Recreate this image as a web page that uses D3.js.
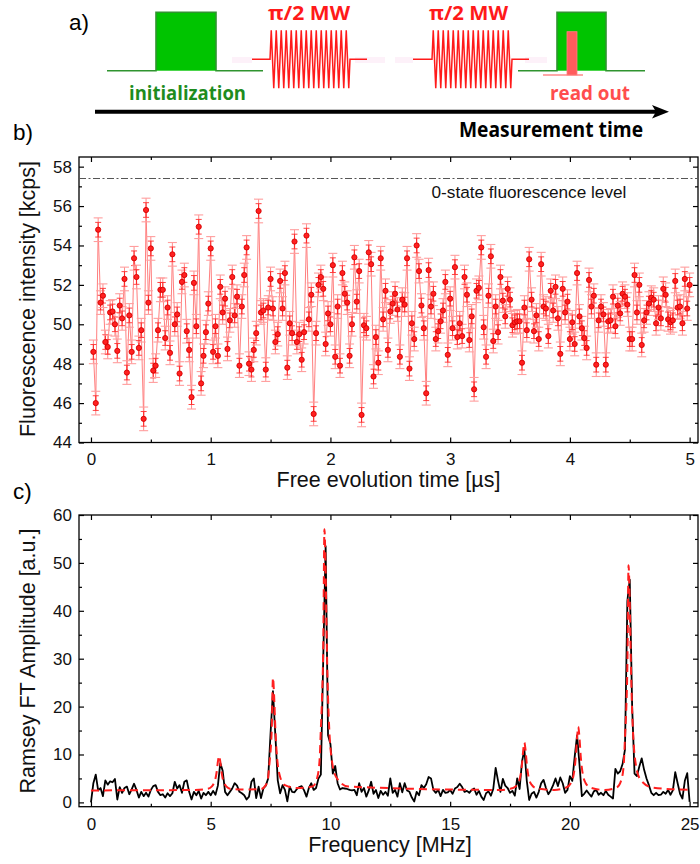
<!DOCTYPE html>
<html><head><meta charset="utf-8">
<script src="https://cdn.jsdelivr.net/npm/d3@7/dist/d3.min.js"></script>
<style>
html,body{margin:0;padding:0;background:#fff;}
svg{display:block;}
text{font-family:"Liberation Sans",Arial,sans-serif;}
.sch{font-family:"Open Sans","Noto Sans",sans-serif;font-weight:700;}
</style></head>
<body>
<svg id="chart" width="700" height="864"></svg>
<script>
// ---------- Panel b data: Ramsey fringes (free evolution time in µs, step 0.02) ----------
const timeStep = 0.02;
const fluor = [
48.6,46.0,54.8,51.1,51.45,49.1,48.85,50.6,50.65,50.0,
48.65,50.95,50.3,52.3,47.55,50.45,48.6,53.35,52.4,48.8,
49.7,45.2,55.8,51.1,53.85,47.65,47.9,49.7,51.75,51.75,
49.3,50.85,48.55,53.55,50.0,50.5,47.5,52.15,52.5,49.65,
48.7,46.3,52.1,49.9,54.95,47.0,48.4,49.6,51.05,53.85,
48.6,49.9,48.4,51.9,50.6,51.3,48.75,50.2,52.4,50.45,
51.4,47.9,50.9,52.5,53.9,48.0,47.7,48.7,49.55,55.75,
50.6,50.7,47.7,50.85,52.3,50.8,49.1,49.5,52.2,50.8,
52.6,47.8,50.05,49.55,54.2,49.1,49.5,48.2,49.6,54.5,
50.25,51.5,45.45,49.55,52.0,52.4,51.8,49.0,50.55,50.0,
53.0,48.35,50.9,47.9,52.6,51.55,51.1,48.4,
50.0,53.4,51.15,52.7,45.4,49.95,49.8,53.65,53.05,47.35,
49.35,48.05,53.35,50.25,51.7,48.7,50.65,51.05,51.55,50.75,
48.35,51.25,51.0,53.35,47.75,50.05,49.25,54.0,52.7,50.95,
49.8,46.5,52.75,50.9,51.55,49.25,49.65,50.15,50.7,52.15,
48.45,51.3,49.8,52.9,49.35,50.05,49.4,52.4,51.5,49.2,
50.4,46.7,51.7,51.85,53.9,49.85,48.35,51.45,53.45,49.15,
50.9,49.6,52.4,51.2,50.4,51.8,51.25,49.95,50.1,50.15,
50.15,48.05,50.85,49.7,53.3,51.25,49.65,50.45,49.25,53.05,
50.9,50.8,49.4,51.7,50.7,51.9,50.3,48.5,51.8,50.6,
51.15,49.25,50.1,49.0,52.6,50.4,49.8,49.3,48.8,52.25,
50.9,51.45,47.95,50.2,50.9,50.5,47.95,50.15,50.2,51.4,
49.9,50.95,50.55,51.55,51.4,51.0,49.25,49.25,52.5,50.6,
52.0,48.95,50.2,50.6,51.05,51.35,51.25,50.05,50.85,50.3,
51.8,51.5,50.25,50.1,50.2,52.2,50.85,50.9,50.05,52.3,
50.8,52.0
];
const fluorErr = 0.6;
const zeroStateLevel = 57.4;
const bXTicks = [0,1,2,3,4,5];
const bYTicks = [44,46,48,50,52,54,56,58];

// ---------- Panel c data: FT amplitude (frequency in MHz, step 0.1) ----------
const freqStep = 0.1;
const ftAmp = [
0,4.0,5.8,2.5,3.0,1.3,4.6,3.7,4.4,4.2,
4.9,0.6,3.2,2.0,3.0,3.3,1.7,2.7,3.9,2.6,
1.0,2.2,1.3,2.0,1.2,2.6,3.4,3.6,2.2,1.5,
1.7,1.0,1.9,1.3,1.9,4.3,2.9,3.6,2.0,4.3,
4.6,2.2,0.6,2.2,1.5,2.4,0.8,2.0,1.5,2.2,
1.5,2.4,1.6,3.5,8.2,6.6,2.2,1.5,2.2,2.9,
4.0,3.5,2.2,1.9,1.5,0.6,1.2,4.3,5.0,0.9,
3.3,0.9,2.9,3.5,5.0,14.5,23.2,14.0,4.6,1.9,
3.6,2.6,0.2,3.3,2.2,2.1,2.8,3.2,3.4,2.5,
1.2,3.0,4.0,2.6,3.0,5.0,5.8,30.0,53.5,14.0,
12.2,6.0,7.6,4.0,2.7,3.0,2.9,2.8,2.6,2.5,
2.6,1.5,4.0,2.2,3.0,1.2,2.5,4.3,1.8,2.6,
0.9,2.4,1.6,2.2,1.4,5.0,2.0,2.6,1.2,4.0,
2.1,4.0,2.5,2.2,1.0,0.2,2.2,1.5,3.6,3.0,
3.8,5.3,5.0,2.6,2.0,2.6,1.3,2.6,2.0,2.1,
2.6,1.8,2.9,3.2,3.9,3.2,2.2,2.4,2.0,2.6,
2.9,1.6,2.4,1.2,0.5,1.9,2.3,1.4,2.8,7.2,
4.5,2.2,4.9,3.5,3.0,2.0,2.4,1.4,5.0,2.8,
8.5,11.0,4.5,0.5,1.8,2.2,1.0,2.2,4.0,4.7,
3.0,1.7,2.5,3.6,5.0,3.4,5.2,4.0,2.0,2.6,
5.5,4.5,9.5,14.0,8.0,1.3,1.8,2.5,1.8,1.2,
2.3,2.6,1.6,2.0,1.5,2.4,1.6,1.2,0.8,7.0,
6.0,6.5,8.0,11.0,42.0,46.5,20.0,6.0,5.5,7.5,
9.2,6.8,5.0,3.6,2.0,1.5,2.0,1.5,1.6,2.2,
1.8,2.6,1.6,2.5,6.3,4.0,1.8,0.8,4.5,6.1,
0.1
];
// Lorentzian fit (red dashed)
const fitFreq = [0,4.35,4.85,5.05,5.15,5.2,5.25,5.3,5.35,5.4,5.45,5.5,5.55,5.65,5.85,6.6,
 7.1,7.3,7.4,7.45,7.5,7.55,7.6,7.65,7.7,7.75,7.8,7.9,8.1,8.6,
 9.25,9.45,9.55,9.6,9.65,9.7,9.75,9.8,9.85,9.9,9.95,10.05,10.25,10.75,
 17.1,17.6,17.8,17.9,17.95,18.0,18.05,18.1,18.15,18.2,18.25,18.3,18.4,18.6,19.35,
 19.85,20.05,20.15,20.2,20.25,20.3,20.35,20.4,20.45,20.5,20.55,20.65,20.85,21.45,
 21.95,22.15,22.25,22.3,22.35,22.4,22.45,22.5,22.55,22.6,22.65,22.75,22.95,23.45,25];
const fitAmp = [2.5,2.6,2.8,3.35,4.2,5.0,6.4,8.5,9.7,8.5,6.4,5.0,4.2,3.35,2.8,2.7,
 2.8,3.6,5.3,7.95,10.7,15.4,26.0,22.0,15.4,10.7,7.95,5.3,3.6,3.0,
 3.3,5.2,9.1,15.4,21.9,32.6,57.0,48.0,32.6,21.9,15.4,9.1,5.2,3.3,
 2.6,2.96,3.7,4.8,6.0,8.0,10.8,12.5,10.8,8.0,6.0,4.8,3.7,2.96,2.6,
 3.1,4.1,5.6,7.2,9.8,13.5,15.8,13.5,9.8,7.2,5.6,4.1,3.1,2.6,
 3.1,4.7,8.0,13.4,19.0,28.3,49.5,41.5,28.3,19.0,13.4,8.0,4.7,3.1,2.6];
const cXTicks = [0,5,10,15,20,25];
const cYTicks = [0,10,20,30,40,50,60];

// ---------- Panel a schematic (pulse sequence, pixel-time units) ----------
const seqGreenBase = [[107,263],[518,645]];
const seqGreenBox  = [[156,216],[557,606]];
const seqMW        = [[252,270,350,367],[413,432,512,529]];
const seqPink      = [[232,252],[355,385],[395,413],[525,547]];
const seqReadBar   = [567,577];
const seqReadLine  = [543,583];

const svg = d3.select("#chart");

// ===================== Panel a =====================
const sx = d3.scaleLinear().domain([0,700]).range([0,700]);
const gA = svg.append("g");
const yBase = 70.7, yTop = 12.3, yMW = 59.3, mwAmp = 29;
gA.append("text").attr("x",69).attr("y",30).attr("font-size",22.5).text("a)");
seqPink.forEach(s=>gA.append("line").attr("x1",sx(s[0])).attr("x2",sx(s[1]))
  .attr("y1",60).attr("y2",60).attr("stroke","#fdf1f9").attr("stroke-width",6));
seqGreenBase.forEach((b,i)=>{
  const bx = seqGreenBox[i];
  gA.append("rect").attr("x",sx(bx[0])).attr("y",yTop).attr("width",sx(bx[1])-sx(bx[0]))
    .attr("height",yBase-yTop).attr("fill","#00c400");
  gA.append("path").attr("fill","none").attr("stroke","#2f942f").attr("stroke-width",1.6)
    .attr("d",`M${sx(b[0])},${yBase}H${sx(bx[0])}V${yTop}H${sx(bx[1])}V${yBase}H${sx(b[1])}`);
});
seqMW.forEach(m=>{
  const n = 16, pts = [[sx(m[0]),yMW],[sx(m[1]),yMW]];
  const w = (sx(m[2])-sx(m[1]))/(2*n);
  for(let k=0;k<2*n;k++){
    pts.push([sx(m[1])+w*(k+0.5), k%2===0 ? yMW-mwAmp : yMW+mwAmp]);
  }
  pts.push([sx(m[2]),yMW],[sx(m[3]),yMW]);
  gA.append("path").attr("fill","none").attr("stroke","#ff1a1a").attr("stroke-width",1.5)
    .attr("d",d3.line()(pts));
});
gA.append("line").attr("x1",sx(seqReadLine[0])).attr("x2",sx(seqReadLine[1]))
  .attr("y1",75).attr("y2",75).attr("stroke","#ff5050").attr("stroke-width",1.2);
gA.append("rect").attr("x",sx(seqReadBar[0])).attr("y",31.7).attr("width",sx(seqReadBar[1])-sx(seqReadBar[0]))
  .attr("height",75-31.7).attr("fill","#ff5c5c").attr("stroke","#ff8080").attr("stroke-width",0.8);
gA.append("text").attr("class","sch").attr("x",268).attr("y",20).attr("font-size",19)
  .attr("fill","#ff1a1a").attr("textLength",82).attr("lengthAdjust","spacingAndGlyphs").text("π/2 MW");
gA.append("text").attr("class","sch").attr("x",429).attr("y",20).attr("font-size",19)
  .attr("fill","#ff1a1a").attr("textLength",79).attr("lengthAdjust","spacingAndGlyphs").text("π/2 MW");
gA.append("text").attr("class","sch").attr("x",129).attr("y",100).attr("font-size",19)
  .attr("fill","#1e8c1e").attr("textLength",117).attr("lengthAdjust","spacingAndGlyphs").text("initialization");
gA.append("text").attr("class","sch").attr("x",550).attr("y",100).attr("font-size",19)
  .attr("fill","#ff4d4d").attr("textLength",80).attr("lengthAdjust","spacingAndGlyphs").text("read out");
gA.append("line").attr("x1",95).attr("x2",656).attr("y1",111.7).attr("y2",111.7)
  .attr("stroke","#000").attr("stroke-width",4);
gA.append("path").attr("d","M652,105 L669,111.7 L652,118.4 L656,111.7 Z").attr("fill","#000");
gA.append("text").attr("class","sch").attr("x",459).attr("y",137).attr("font-size",21)
  .attr("fill","#000").attr("textLength",184).attr("lengthAdjust","spacingAndGlyphs").text("Measurement time");

// ===================== helpers =====================
function frameAxes(g, x, y, xMaj, xMin, yMaj, yMin, L, R, T, B, xPad){
  const fmt = d3.format("d");
  g.append("g").attr("transform",`translate(0,${B})`)
    .call(d3.axisBottom(x).tickValues(xMaj).tickSize(-5).tickPadding(xPad).tickFormat(fmt));
  g.append("g").attr("transform",`translate(0,${B})`)
    .call(d3.axisBottom(x).tickValues(xMin).tickSize(-3).tickFormat(""));
  g.append("g").attr("transform",`translate(0,${T})`)
    .call(d3.axisTop(x).tickValues(xMaj).tickSize(-5).tickFormat(""));
  g.append("g").attr("transform",`translate(0,${T})`)
    .call(d3.axisTop(x).tickValues(xMin).tickSize(-3).tickFormat(""));
  g.append("g").attr("transform",`translate(${L},0)`)
    .call(d3.axisLeft(y).tickValues(yMaj).tickSize(-5).tickPadding(7).tickFormat(fmt));
  g.append("g").attr("transform",`translate(${L},0)`)
    .call(d3.axisLeft(y).tickValues(yMin).tickSize(-3).tickFormat(""));
  g.append("g").attr("transform",`translate(${R},0)`)
    .call(d3.axisRight(y).tickValues(yMaj).tickSize(-5).tickFormat(""));
  g.append("g").attr("transform",`translate(${R},0)`)
    .call(d3.axisRight(y).tickValues(yMin).tickSize(-3).tickFormat(""));
  g.selectAll(".domain").remove();
  g.selectAll(".tick line").attr("stroke","#000").attr("stroke-width",1.2);
  g.selectAll(".tick text").attr("font-size",17).attr("fill","#111")
    .style("font-family","'Liberation Sans',Arial,sans-serif");
  g.append("rect").attr("x",L).attr("y",T).attr("width",R-L).attr("height",B-T)
    .attr("fill","none").attr("stroke","#000").attr("stroke-width",1.3);
}

// ===================== Panel b =====================
const bL=79,bR=698,bT=157,bB=442.5;
const xb = d3.scaleLinear().domain([-0.1,5.07]).range([bL,bR]);
const yb = d3.scaleLinear().domain([44,58.49]).range([bB,bT]);
const gB = svg.append("g");
gB.append("text").attr("x",13).attr("y",140).attr("font-size",22.5).text("b)");
const bData = fluor.map((v,i)=>({t:(i+1)*timeStep, v}));
const bXMin = d3.range(0.5,5.01,1);
const bYMin = d3.range(45,58,2);
frameAxes(gB, xb, yb, bXTicks, bXMin, bYTicks, bYMin, bL,bR,bT,bB, 10.5);
gB.append("line").attr("x1",bL).attr("x2",bR).attr("y1",yb(zeroStateLevel)).attr("y2",yb(zeroStateLevel))
  .attr("stroke","#555").attr("stroke-width",1.2).attr("stroke-dasharray","7,2.5,2,2.5");
gB.append("text").attr("x",431.5).attr("y",198).attr("font-size",17.2).attr("fill","#111")
  .text("0-state fluorescence level");
// connecting line
gB.append("path").datum(bData).attr("fill","none").attr("stroke","#ff7f7f").attr("stroke-width",1)
  .attr("d",d3.line().x(d=>xb(d.t)).y(d=>yb(d.v)));
// error bars
const eb = gB.append("g");
bData.forEach(d=>{
  const x=xb(d.t), y1=yb(d.v+fluorErr), y2=yb(d.v-fluorErr);
  const yi1=yb(d.v+fluorErr*0.62), yi2=yb(d.v-fluorErr*0.62);
  eb.append("line").attr("x1",x).attr("x2",x).attr("y1",y1).attr("y2",y2)
    .attr("stroke","#ff8c8c").attr("stroke-width",1);
  eb.append("line").attr("x1",x).attr("x2",x).attr("y1",yi1).attr("y2",yi2)
    .attr("stroke","#ff2a2a").attr("stroke-width",1.1);
  [y1,y2].forEach(yy=>eb.append("line").attr("x1",x-4.5).attr("x2",x+4.5).attr("y1",yy).attr("y2",yy)
    .attr("stroke","#ff9e9e").attr("stroke-width",1.1));
  [yi1,yi2].forEach(yy=>eb.append("line").attr("x1",x-3).attr("x2",x+3).attr("y1",yy).attr("y2",yy)
    .attr("stroke","#ff3030").attr("stroke-width",0.9));
});
gB.append("g").selectAll("circle").data(bData).join("circle")
  .attr("cx",d=>xb(d.t)).attr("cy",d=>yb(d.v)).attr("r",2.6)
  .attr("fill","#ff2020").attr("stroke","#d40000").attr("stroke-width",0.9);
gB.append("text").attr("transform","translate(35,299) rotate(-90)").attr("text-anchor","middle")
  .attr("font-size",21.5).attr("fill","#111").text("Fluorescence intensity [kcps]");
gB.append("text").attr("x",388.5).attr("y",487).attr("text-anchor","middle")
  .attr("font-size",21.5).attr("fill","#111").text("Free evolution time [µs]");

// ===================== Panel c =====================
const cL=79,cR=698,cT=515,cB=806.7;
const xc = d3.scaleLinear().domain([-0.5,25.35]).range([cL,cR]);
const yc = d3.scaleLinear().domain([-0.9,60]).range([cB,cT]);
const gC = svg.append("g");
gC.append("text").attr("x",13).attr("y",499).attr("font-size",22.5).text("c)");
frameAxes(gC, xc, yc, cXTicks, d3.range(2.5,25,5), cYTicks, d3.range(5,60,10), cL,cR,cT,cB, 11);
const cData = ftAmp.map((v,i)=>({f:+(i*freqStep).toFixed(2), v}));
gC.append("path").datum(cData).attr("fill","none").attr("stroke","#000").attr("stroke-width",1.8)
  .attr("stroke-linejoin","round").attr("d",d3.line().x(d=>xc(d.f)).y(d=>yc(d.v)));
const fitData = fitFreq.map((f,i)=>({f, v:fitAmp[i]}));
gC.append("path").datum(fitData).attr("fill","none").attr("stroke","#ff1f1f").attr("stroke-width",2)
  .attr("stroke-dasharray","8,5")
  .attr("d",d3.line().curve(d3.curveMonotoneX).x(d=>xc(d.f)).y(d=>yc(d.v)));
gC.append("text").attr("transform","translate(35,661) rotate(-90)").attr("text-anchor","middle")
  .attr("font-size",21.5).attr("fill","#111").text("Ramsey FT Amplitude [a.u.]");
gC.append("text").attr("x",390).attr("y",852).attr("text-anchor","middle")
  .attr("font-size",21.5).attr("fill","#111").text("Frequency [MHz]");
</script>
</body></html>
